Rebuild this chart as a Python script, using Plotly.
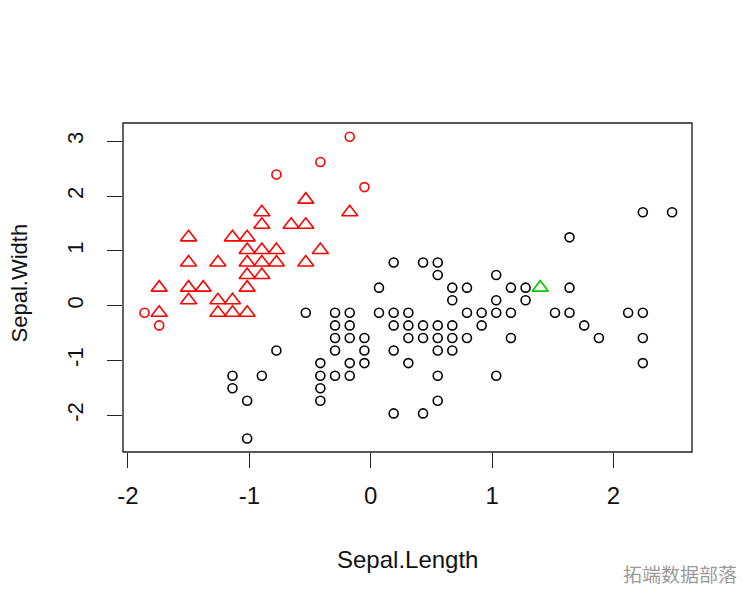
import plotly.graph_objects as go

# Scaled iris-like values (Sepal.Length, Sepal.Width)
red_tri_x = [-1.743, -1.743, -1.501, -1.501, -1.501, -1.501, -1.380, -1.259, -1.259, -1.259,
             -1.139, -1.139, -1.139, -1.018, -1.018, -1.018, -1.018, -1.018, -1.018,
             -0.897, -0.897, -0.897, -0.897, -0.897, -0.777, -0.777, -0.656,
             -0.535, -0.535, -0.535, -0.415, -0.173]
red_tri_y = [-0.131, 0.328, 0.099, 0.328, 0.787, 1.246, 0.328, -0.131, 0.099, 0.787,
             -0.131, 0.099, 1.246, -0.131, 0.328, 0.558, 0.787, 1.016, 1.246,
             0.558, 0.787, 1.016, 1.475, 1.704, 0.787, 1.016, 1.475,
             0.787, 1.475, 1.934, 1.016, 1.704]

red_circ_x = [-1.864, -1.743, -0.777, -0.415, -0.173, -0.052]
red_circ_y = [-0.131, -0.361, 2.393, 2.622, 3.081, 2.163]

green_tri_x = [1.397]
green_tri_y = [0.328]

black_x = [-1.139, -1.139, -1.018, -1.018, -0.897, -0.777, -0.535,
           -0.415, -0.415, -0.415, -0.415,
           -0.294, -0.294, -0.294, -0.294, -0.294,
           -0.173, -0.173, -0.173, -0.173, -0.173,
           -0.052, -0.052, -0.052,
           0.068, 0.068,
           0.189, 0.189, 0.189, 0.189, 0.189,
           0.310, 0.310, 0.310, 0.310,
           0.431, 0.431, 0.431, 0.431,
           0.552, 0.552, 0.552, 0.552, 0.552, 0.552, 0.552,
           0.672, 0.672, 0.672, 0.672, 0.672,
           0.793, 0.793, 0.793,
           0.914, 0.914,
           1.034, 1.034, 1.034, 1.034,
           1.155, 1.155, 1.155,
           1.276, 1.276,
           1.518,
           1.638, 1.638, 1.638,
           1.759, 1.880, 2.121,
           2.242, 2.242, 2.242, 2.242,
           2.483]
black_y = [-1.508, -1.279, -2.426, -1.737, -1.279, -0.820, -0.131,
           -1.737, -1.508, -1.279, -1.049,
           -1.279, -0.820, -0.590, -0.361, -0.131,
           -1.279, -1.049, -0.590, -0.361, -0.131,
           -1.049, -0.820, -0.590,
           -0.131, 0.328,
           -1.967, -0.820, -0.361, -0.131, 0.787,
           -1.049, -0.590, -0.361, -0.131,
           -1.967, -0.590, -0.361, 0.787,
           -1.737, -1.279, -0.820, -0.590, -0.361, 0.558, 0.787,
           -0.820, -0.590, -0.361, 0.099, 0.328,
           -0.590, -0.131, 0.328,
           -0.361, -0.131,
           -1.279, -0.131, 0.099, 0.558,
           -0.590, -0.131, 0.328,
           0.099, 0.328,
           -0.131,
           -0.131, 0.328, 1.246,
           -0.361, -0.590, -0.131,
           -1.049, -0.590, -0.131, 1.704,
           1.704]

x_ticks = [-2, -1, 0, 1, 2]
y_ticks = [-2, -1, 0, 1, 2, 3]

FONT = "Liberation Sans, Arial, sans-serif"

fig = go.Figure()
fig.add_trace(go.Scatter(x=black_x, y=black_y, mode="markers",
                         marker=dict(symbol="circle-open", size=9, color="#000000",
                                     line=dict(width=1.6, color="#000000"))))
fig.add_trace(go.Scatter(x=red_tri_x, y=red_tri_y, mode="markers",
                         marker=dict(symbol="triangle-up-open", size=14, color="#FF0000",
                                     line=dict(width=1.6, color="#FF0000"))))
fig.add_trace(go.Scatter(x=red_circ_x, y=red_circ_y, mode="markers",
                         marker=dict(symbol="circle-open", size=9, color="#FF0000",
                                     line=dict(width=1.6, color="#FF0000"))))
fig.add_trace(go.Scatter(x=green_tri_x, y=green_tri_y, mode="markers",
                         marker=dict(symbol="triangle-up-open", size=14, color="#00CD00",
                                     line=dict(width=1.6, color="#00CD00"))))

fig.update_layout(
    width=756, height=606,
    margin=dict(l=123, r=64, t=123, b=154),
    paper_bgcolor="white", plot_bgcolor="white",
    showlegend=False,
    font=dict(family=FONT, color="#111111"),
    xaxis=dict(range=[-2.041, 2.647], tickvals=x_ticks, ticktext=[str(v) for v in x_ticks],
               showgrid=False, zeroline=False, showline=False,
               ticks="outside", ticklen=15, tickwidth=1.4, tickcolor="#222222",
               tickfont=dict(size=24, family=FONT, color="#111111"),
               ticklabelstandoff=7),
    yaxis=dict(range=[-2.671, 3.333], tickvals=y_ticks, ticktext=[str(v) for v in y_ticks],
               showgrid=False, zeroline=False, showline=False,
               ticks="outside", ticklen=15, tickwidth=1.4, tickcolor="#222222",
               tickangle=-90,
               tickfont=dict(size=22, family=FONT, color="#111111"),
               ticklabelstandoff=15),
    shapes=[dict(type="rect", xref="paper", yref="paper", x0=0, x1=1, y0=0, y1=1,
                 line=dict(color="#222222", width=1.4), fillcolor="rgba(0,0,0,0)")],
    annotations=[
        dict(text="Sepal.Length", xref="paper", yref="paper", x=0.5, y=(452 - 559) / 329,
             xanchor="center", yanchor="middle", showarrow=False,
             font=dict(size=24, family=FONT, color="#111111")),
        dict(text="Sepal.Width", xref="paper", yref="paper", x=(18.5 - 123) / 569,
             y=(452 - 283) / 329, textangle=-90,
             xanchor="center", yanchor="middle", showarrow=False,
             font=dict(size=22, family=FONT, color="#111111")),
        dict(text="拓端数据部落", xref="paper", yref="paper", x=(680 - 123) / 569,
             y=(452 - 573) / 329, xanchor="center", yanchor="middle", showarrow=False,
             font=dict(size=19, family="Noto Sans CJK SC", color="#9a9a9a")),
    ],
)

fig.write_html("out.html",
               config={"displayModeBar": False},
               post_script="document.body.style.margin='0';document.body.style.padding='0';")
